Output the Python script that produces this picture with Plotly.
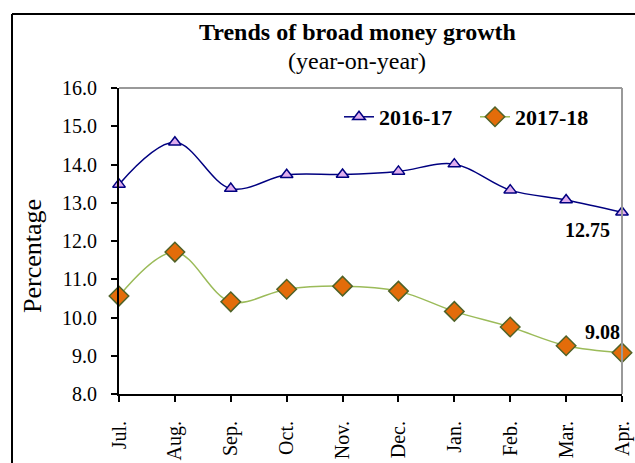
import plotly.graph_objects as go

months = ["Jul.", "Aug.", "Sep.", "Oct.", "Nov.", "Dec.", "Jan.", "Feb.", "Mar.", "Apr."]
fy2016_17 = [13.48, 14.58, 13.37, 13.73, 13.74, 13.82, 14.01, 13.33, 13.07, 12.75]
fy2017_18 = [10.56, 11.71, 10.41, 10.74, 10.82, 10.69, 10.16, 9.75, 9.26, 9.08]
y_ticks = [8, 9, 10, 11, 12, 13, 14, 15, 16]

FONT = "Liberation Serif, Times New Roman, serif"

fig = go.Figure()
fig.add_trace(go.Scatter(
    x=months, y=fy2016_17, name="2016-17", mode="lines+markers", cliponaxis=False,
    line=dict(color="#000080", width=1.5, shape="spline", smoothing=1),
    marker=dict(symbol="triangle-up", size=11, color="#E0AEEE",
                line=dict(color="#000080", width=1.5)),
))
fig.add_trace(go.Scatter(
    x=months, y=fy2017_18, name="2017-18", mode="lines+markers", cliponaxis=False,
    line=dict(color="#9BBB59", width=1.5, shape="spline", smoothing=1),
    marker=dict(symbol="diamond", size=15, color="#E36C0A",
                line=dict(color="#4F6228", width=1.5)),
))

L, R, T, B = 119, 13, 88, 69
W, H = 635, 463
pw, ph = W - L - R, H - T - B

def px(x):
    return (x - L) / pw

def py(y):
    return (H - B - y) / ph

fig.update_layout(
    width=W, height=H,
    margin=dict(l=L, r=R, t=T, b=B, autoexpand=False),
    paper_bgcolor="white", plot_bgcolor="white",
    font=dict(family=FONT, color="black", size=20),
    showlegend=True,
    legend=dict(orientation="h", x=px(339), y=py(117), xanchor="left", yanchor="middle",
                font=dict(size=22, family=FONT, weight="bold"),
                bgcolor="rgba(0,0,0,0)", entrywidth=91, entrywidthmode="pixels",
                tracegroupgap=0),
    xaxis=dict(
        showline=True, linecolor="black", linewidth=2, automargin=False,
        ticks="outside", ticklen=6, tickwidth=2, tickcolor="black",
        tickangle=-90, showgrid=False, zeroline=False,
        range=[0, 9], tickfont=dict(size=20), ticklabelstandoff=11,
    ),
    yaxis=dict(
        showline=True, linecolor="black", linewidth=2, automargin=False,
        ticks="outside", ticklen=6, tickwidth=2, tickcolor="black",
        range=[8, 16], tickvals=y_ticks, tickformat=".1f",
        showgrid=False, zeroline=False, tickfont=dict(size=20),
        ticklabelstandoff=10,
    ),
    shapes=[
        dict(type="line", xref="paper", yref="paper", x0=0, x1=1, y0=1, y1=1,
             line=dict(color="#999999", width=2)),
        dict(type="line", xref="paper", yref="paper", x0=1, x1=1, y0=0, y1=1,
             line=dict(color="#999999", width=2)),
        dict(type="line", xref="paper", yref="paper", x0=px(12), x1=px(640), y0=py(14), y1=py(14),
             line=dict(color="black", width=2)),
        dict(type="line", xref="paper", yref="paper", x0=px(12), x1=px(12), y0=py(14), y1=py(470),
             line=dict(color="black", width=2)),
    ],
    annotations=[
        dict(text="<b>Trends of broad money growth</b>", xref="paper", yref="paper",
             x=px(357), y=py(32), xanchor="center", yanchor="middle",
             showarrow=False, font=dict(size=24)),
        dict(text="(year-on-year)", xref="paper", yref="paper",
             x=px(357), y=py(61), xanchor="center", yanchor="middle",
             showarrow=False, font=dict(size=24)),
        dict(text="Percentage", xref="paper", yref="paper", textangle=-90,
             x=px(32), y=py(256), xanchor="center", yanchor="middle",
             showarrow=False, font=dict(size=26)),
        dict(text="<b>12.75</b>", x="Apr.", y=fy2016_17[-1], xref="x", yref="y",
             xanchor="center", yanchor="middle",
             showarrow=False, xshift=-35, yshift=-18, font=dict(size=20)),
        dict(text="<b>9.08</b>", x="Apr.", y=fy2017_18[-1], xref="x", yref="y",
             xanchor="center", yanchor="middle",
             showarrow=False, xshift=-20, yshift=21, font=dict(size=20)),
    ],
)

fig.write_html("out.html", config={"displayModeBar": False},
               post_script="document.body.style.margin='0';")
